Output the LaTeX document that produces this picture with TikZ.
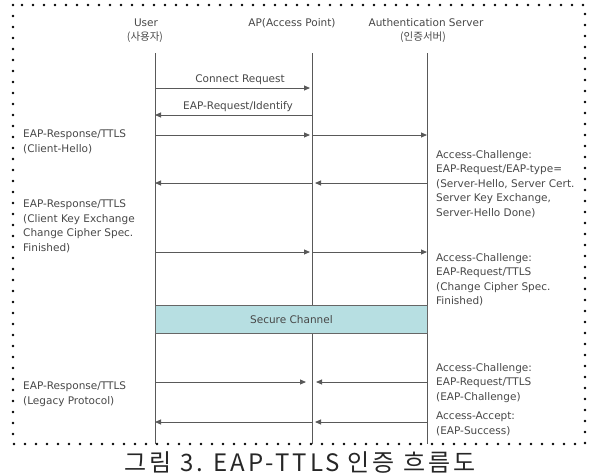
\documentclass[tikz,border=0pt]{standalone}
\usepackage{fontspec}
\setmainfont{DejaVu Sans}
\newfontfamily\kr{Noto Sans CJK KR}
\newfontfamily\krcap[LetterSpace=12]{Noto Sans CJK KR}
\usetikzlibrary{arrows.meta}
\definecolor{chan}{HTML}{B7DFE2}
\begin{document}
\begin{tikzpicture}[x=1pt,y=-1pt,
  txt/.style={font=\fontsize{10.5}{14.5}\selectfont, text=black!72, inner sep=0pt},
  lbl/.style={txt, align=left, anchor=north west},
  life/.style={draw=black!65, line width=0.9pt},
  msg/.style={draw=black!65, line width=0.9pt, -{Triangle[length=6pt,width=5pt]}},
  frame/.style={draw=black, line width=2.6pt, line cap=round, dash pattern=on 0pt off 11pt}
  ]
\useasboundingbox (0,0) rectangle (590,474);
% frame
\draw[frame] (13,5) rectangle (585,444);
% headers
\node[txt] (hU) at (146,23) {User};
\node[txt] (hU2) at (145,37) {\kr (사용자)};
\node[txt] (hA) at (292,23) {AP(Access Point)};
\node[txt] (hS) at (426,23) {Authentication Server};
\node[txt] (hS2) at (423,37) {\kr (인증서버)};
% lifeline coordinates
\coordinate (uT) at (155,53); \coordinate (uB) at (155,444);
\coordinate (aT) at (312,53); \coordinate (aB) at (312,444);
\coordinate (sT) at (427,53); \coordinate (sB) at (427,444);
\draw[life] (uT) -- (uB);
\draw[life] (aT) -- (aB);
\draw[life] (sT) -- (sB);
% message rows
\foreach \n/\y in {1/88,2/115,3/135,4/183,5/252,7/382,8/422}{
  \coordinate (u\n) at (155,\y);
  \coordinate (a\n) at (312,\y);
  \coordinate (s\n) at (427,\y);
  \coordinate (aL\n) at (310,\y);
  \coordinate (aR\n) at (315,\y);
}
% 1
\draw[msg] (u1) -- (aL1);
\node[txt] (m1) at (240,80) {Connect Request};
% 2
\draw[msg] (a2) -- (u2);
\node[txt] (m2) at (238,107) {EAP-Request/Identify};
% 3
\draw[msg] (u3) -- (aL3);
\draw[msg] (a3) -- (s3);
\node[lbl] (l3) at (23,130) {EAP-Response/TTLS\\(Client-Hello)};
% 4
\draw[msg] (s4) -- (aR4);
\draw[msg] (a4) -- (u4);
\node[lbl] (r4) at (436,150) {Access-Challenge:\\EAP-Request/EAP-type=\\(Server-Hello, Server Cert.\\Server Key Exchange,\\Server-Hello Done)};
% 5
\draw[msg] (u5) -- (aL5);
\draw[msg] (a5) -- (s5);
\node[lbl] (l5) at (23,200) {EAP-Response/TTLS\\(Client Key Exchange\\Change Cipher Spec.\\Finished)};
\node[lbl] (r5) at (436,253) {Access-Challenge:\\EAP-Request/TTLS\\(Change Cipher Spec.\\Finished)};
% secure channel
\node[draw=black!60, line width=0.9pt, fill=chan, minimum width=272pt, minimum height=28pt, inner sep=0pt, anchor=north west, txt] (sc) at (155,305) {Secure Channel};
% 7
\coordinate (aLL7) at (306,382);
\coordinate (aRR7) at (316,382);
\draw[msg] (u7) -- (aLL7);
\draw[msg] (s7) -- (aRR7);
\node[lbl] (l7) at (23,382) {EAP-Response/TTLS\\(Legacy Protocol)};
\node[lbl] (r7) at (436,363) {Access-Challenge:\\EAP-Request/TTLS\\(EAP-Challenge)};
% 8
\draw[msg] (s8) -- (aR8);
\draw[msg] (a8) -- (u8);
\node[lbl] (r8) at (436,412) {Access-Accept:\\(EAP-Success)};
% caption
\node[inner sep=0pt, text=black!85, font=\krcap\fontsize{24}{26}\selectfont] (cap) at (300,462) {그림 3. EAP-TTLS 인증 흐름도};
\end{tikzpicture}
\end{document}
